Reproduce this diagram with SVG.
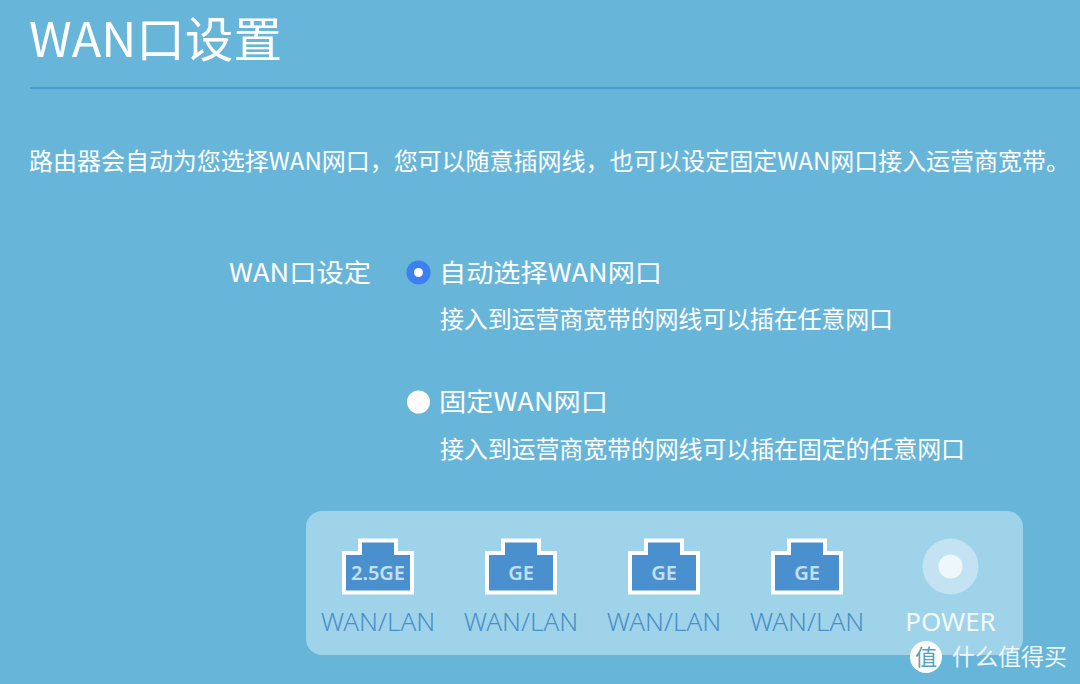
<svg xmlns="http://www.w3.org/2000/svg" width="1080" height="684" viewBox="0 0 1080 684">
<style>
text{font-family:"Noto Sans CJK SC","Noto Sans",sans-serif;fill:#fff}
.lat{font-family:"Noto Sans","Noto Sans CJK SC",sans-serif;font-weight:300;font-size:26px;fill:#4a8fcb;text-anchor:middle}
.ge{font-family:"Noto Sans",sans-serif;font-weight:600;font-size:20px;fill:#c2e0f0;text-anchor:middle}
.s{font-size:24px;font-weight:400}
.port{fill:#4a90cf;stroke:#fff;stroke-width:4}
</style>
<defs><path id="p" d="M-34 -13.500H-18V-26H18V-13.500H34V26H-34Z"/></defs>
<rect width="1080" height="684" fill="#67b6da"/>
<text x="29" y="57" font-size="48" font-weight="400" textLength="253" lengthAdjust="spacingAndGlyphs">WAN口设置</text>
<rect x="30" y="87" width="1050" height="2" fill="#4a9bd0"/>
<text class="s" x="29" y="170" textLength="1041" lengthAdjust="spacing">路由器会自动为您选择WAN网口，您可以随意插网线，也可以设定固定WAN网口接入运营商宽带。</text>
<text x="229" y="282" font-size="25" textLength="142" lengthAdjust="spacingAndGlyphs">WAN口设定</text>
<g id="radio-auto"><circle cx="418.500" cy="272.500" r="12" fill="#3b7ff0"/><circle cx="418.500" cy="272.500" r="4.500" fill="#fff"/></g>
<text x="439" y="282" font-size="25" textLength="223" lengthAdjust="spacingAndGlyphs">自动选择WAN网口</text>
<text class="s" x="440" y="328" textLength="453">接入到运营商宽带的网线可以插在任意网口</text>
<g id="radio-fixed"><circle cx="418.500" cy="402" r="11.500" fill="#fdfbfb"/></g>
<text x="439" y="411" font-size="25" textLength="169" lengthAdjust="spacingAndGlyphs">固定WAN网口</text>
<text class="s" x="440" y="458" textLength="525">接入到运营商宽带的网线可以插在固定的任意网口</text>
<g id="panel"><rect x="306" y="511" width="717" height="144" rx="16" fill="#9ed3e9"/></g>
<g id="port1"><use href="#p" x="378" y="566.500" class="port"/><text class="ge" x="378" y="580">2.5GE</text><text class="lat" x="378" y="631">WAN/LAN</text></g>
<g id="port2"><use href="#p" x="521" y="566.500" class="port"/><text class="ge" x="521" y="580">GE</text><text class="lat" x="521" y="631">WAN/LAN</text></g>
<g id="port3"><use href="#p" x="664" y="566.500" class="port"/><text class="ge" x="664" y="580">GE</text><text class="lat" x="664" y="631">WAN/LAN</text></g>
<g id="port4"><use href="#p" x="807" y="566.500" class="port"/><text class="ge" x="807" y="580">GE</text><text class="lat" x="807" y="631">WAN/LAN</text></g>
<g id="power"><circle cx="950.500" cy="566.500" r="28" fill="#c3e3f2"/><circle cx="950.500" cy="566.500" r="12" fill="#eef8fc"/><text class="lat" x="950.500" y="631" style="fill:#f2fafd;font-weight:400">POWER</text></g>
<g id="watermark"><circle cx="926" cy="657" r="16" fill="#fff"/><text x="926" y="665" font-size="22" text-anchor="middle" style="fill:#5a9fbf">值</text><text x="952" y="665" font-size="23" textLength="115" style="fill:#eef7fb">什么值得买</text></g>
</svg>
